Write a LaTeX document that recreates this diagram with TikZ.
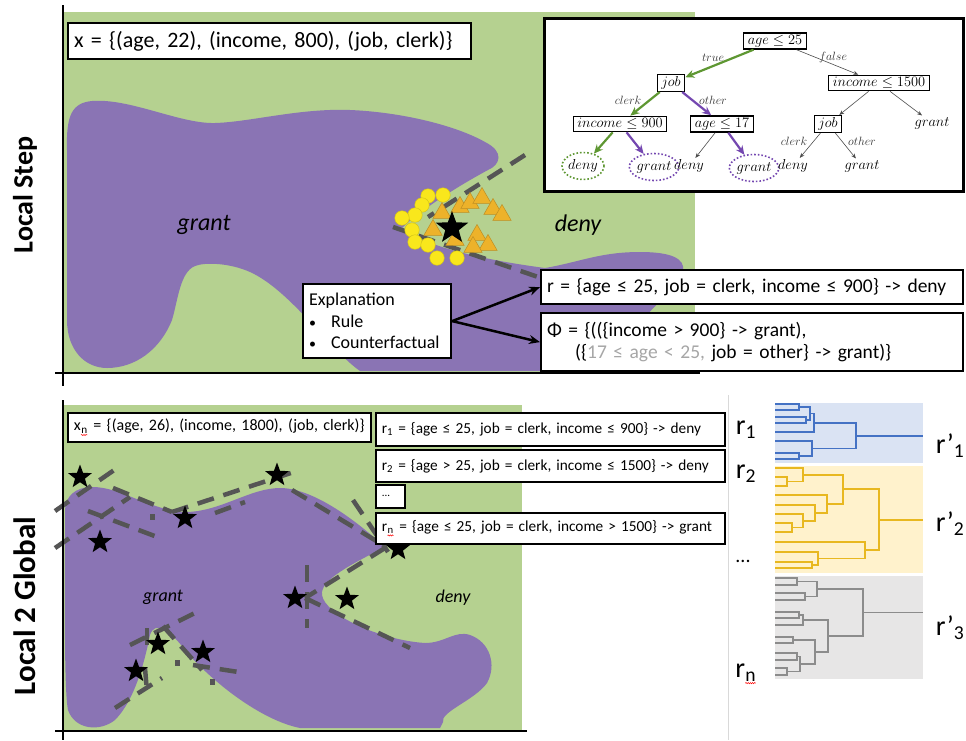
\documentclass[tikz,border=0pt]{standalone}
\usepackage[no-math]{fontspec}
\setmainfont{Carlito}
\usetikzlibrary{shapes.geometric,arrows.meta,decorations.pathmorphing}
\newcommand{\fsz}[2]{\fontsize{#1}{#2}\selectfont}
\newcommand{\dmerge}[5]{\draw (#1,#2) -- (#5,#2) -- (#5,#4) -- (#3,#4);}
\newcommand{\squig}[1]{\tikz[baseline=(sq.base)]{\node[anchor=base, inner sep=0pt, text width=, minimum width=0pt, minimum height=0pt, draw=none, fill=none] (sq) at (0,0) {#1}; \draw[red, line width=0.5pt, decorate, decoration={snake, amplitude=0.6pt, segment length=2.2pt}] ([yshift=-1.5pt]sq.south west) -- ([yshift=-1.5pt]sq.south east);}}
\definecolor{bggreen}{HTML}{B5D190}
\definecolor{blobpurple}{HTML}{8A74B4}
\definecolor{dashgray}{HTML}{555555}
\definecolor{ptyellow}{HTML}{F9E71C}
\definecolor{triorange}{HTML}{EDB22A}
\definecolor{treegreen}{HTML}{5E9732}
\definecolor{treepurple}{HTML}{7447B0}
\definecolor{lightgrayt}{HTML}{A6A6A6}
\definecolor{dblue}{HTML}{4472C4}
\definecolor{dyellow}{HTML}{E8B820}
\definecolor{dgray}{HTML}{8C8C8C}
\definecolor{bandblue}{HTML}{DAE3F3}
\definecolor{bandyellow}{HTML}{FFF2CC}
\definecolor{bandgray}{HTML}{E7E6E6}
\begin{document}
\begin{tikzpicture}[x=1pt,y=-1pt,
  ibox/.style={draw=black, line width=2.2pt, fill=white, anchor=north west, inner xsep=6pt, inner ysep=0pt, align=left},
  lbox/.style={ibox, line width=1.8pt, font=\fsz{15.3}{17}},
  bnd/.style={draw=dashgray, line width=4.5pt, dash pattern=on 17pt off 10pt},
  ydot/.style={circle, fill=ptyellow, draw=ptyellow!85!black, line width=0.5pt, minimum size=14.5pt, inner sep=0pt},
  otri/.style={regular polygon, regular polygon sides=3, fill=triorange, draw=triorange!80!black, line width=0.5pt, minimum size=21pt, inner sep=0pt},
  bstar/.style={star, star points=5, star point ratio=2.4, fill=black, inner sep=0pt, minimum size=#1},
  tbox/.style={draw, line width=1.3pt, inner xsep=4pt, inner ysep=2pt, font=\fsz{13.5}{15}, fill=white},
  leaf/.style={inner sep=1.5pt, font=\fsz{13.5}{15}},
  eleaf/.style={ellipse, draw=#1, dotted, line width=1.6pt, minimum width=40pt, minimum height=27pt, inner sep=0pt, font=\fsz{13.5}{15}},
  elab/.style={font=\fsz{11.5}{13}, text=black!80},
  garr/.style={-{Stealth[length=9pt,width=8pt]}, draw=treegreen, line width=2.2pt},
  parr/.style={-{Stealth[length=9pt,width=8pt]}, draw=treepurple, line width=2.2pt},
  tarr/.style={-{Stealth[length=5pt,width=4pt]}, draw=black!70, line width=0.6pt},
  karr/.style={-{Stealth[length=11pt,width=9pt]}, draw=black, line width=2.5pt},
  axisline/.style={draw=black, line width=1.8pt},
  side/.style={rotate=90, font=\bfseries\fsz{28}{30}}
]
\useasboundingbox (0,0) rectangle (966,740);
\fill[white] (0,0) rectangle (966,740);

% ================= TOP PANEL =================
\fill[bggreen] (63,12) rectangle (695,372);
\fill[blobpurple] (67,150)
  .. controls (66,115) and (72,103) .. (92,101)
  .. controls (130,98) and (180,124) .. (215,123)
  .. controls (250,122) and (300,108) .. (350,110)
  .. controls (400,112) and (455,125) .. (485,142)
  .. controls (505,152) and (500,165) .. (488,170)
  .. controls (460,185) and (420,210) .. (402,228)
  .. controls (430,250) and (500,262) .. (545,268)
  .. controls (580,262) and (600,252) .. (640,252)
  .. controls (670,252) and (686,258) .. (683,272)
  .. controls (680,290) and (650,305) .. (645,320)
  .. controls (640,340) and (630,360) .. (620,371)
  -- (360,371)
  .. controls (330,350) and (290,290) .. (250,272)
  .. controls (230,263) and (205,262) .. (195,266)
  .. controls (180,272) and (178,300) .. (172,320)
  .. controls (160,350) and (135,368) .. (107,368)
  .. controls (85,368) and (67,350) .. (67,320)
  -- cycle;

\draw[bnd] (525,155) -- (428,217);
\draw[bnd] (393,227) -- (541,278);

\foreach \p [count=\i] in {(428,196),(443,195),(422,205),(415,215),(402,218),(412,230),(415,242),(428,245),(437,258),(457,258)}
  \node[ydot] (yd\i) at \p {};
\foreach \p [count=\i] in {(460,207),(470,203),(482,198),(493,209),(502,215),(442,213),(433,230),(455,240),(477,235),(488,245),(473,247)}
  \node[otri] (tr\i) at \p {};
\node[bstar=34] (xstar) at (452,228) {};

\node[font=\itshape\fsz{24}{26}] (grantT) at (204,225) {grant};
\node[font=\itshape\fsz{24}{26}] (denyT) at (578,225) {deny};

\node[ibox, text width=391, minimum height=36, font=\fsz{22}{24}] (xbox) at (67,22) {\mbox{x = \{(age, 22), (income, 800), (job, clerk)\}}};

% decision tree
\node[draw, line width=2.6pt, fill=white, anchor=north west, minimum width=419, minimum height=173, inner sep=0pt] (treebox) at (543,17) {};
\node[tbox] (root) at (775,41) {$age \leq 25$};
\node[tbox] (job) at (671,83) {$job$};
\node[tbox] (inc1500) at (879,83) {$income \leq 1500$};
\node[tbox] (inc900) at (620,124) {$income \leq 900$};
\node[tbox] (age17) at (722,124) {$age \leq 17$};
\node[tbox] (job2) at (828,124) {$job$};
\node[leaf] (grantR) at (932,123) {$grant$};
\node[eleaf=treegreen] (deny1) at (583,166) {$deny$};
\node[eleaf=treepurple] (grant1) at (654,167) {$grant$};
\node[leaf] (deny2) at (689,166) {$deny$};
\node[eleaf=treepurple] (grant2) at (754,168) {$grant$};
\node[leaf] (deny3) at (793,166) {$deny$};
\node[leaf] (grant3) at (862,166) {$grant$};

\draw[garr] (root) -- (job);
\draw[tarr] (root) -- (inc1500);
\draw[garr] (job) -- (inc900);
\draw[parr] (job) -- (age17);
\draw[garr] (inc900) -- (deny1);
\draw[parr] (inc900) -- (grant1);
\draw[tarr] (age17) -- (deny2);
\draw[parr] (age17) -- (grant2);
\draw[tarr] (inc1500) -- (job2);
\draw[tarr] (inc1500) -- (grantR);
\draw[tarr] (job2) -- (deny3);
\draw[tarr] (job2) -- (grant3);

\node[elab] (ltrue) at (713,58) {$true$};
\node[elab] (lfalse) at (833,57) {$false$};
\node[elab] (lclerk1) at (628,100) {$clerk$};
\node[elab] (lother1) at (713,100) {$other$};
\node[elab] (lclerk2) at (794,141) {$clerk$};
\node[elab] (lother2) at (862,141) {$other$};

% explanation boxes
\node[ibox, text width=136, minimum height=74, font=\fsz{18}{21.5}] (expl) at (302,283) {Explanation\\ {\fsz{14}{14}\textbullet}\hspace{15pt}Rule\\ {\fsz{14}{14}\textbullet}\hspace{15pt}Counterfactual};
\node[ibox, text width=410, minimum height=34, font=\fsz{19.5}{22}] (rbox) at (540,269) {\mbox{r = \{age ≤ 25, job = clerk, income ≤ 900\} -> deny}};
\node[ibox, text width=410, minimum height=58, font=\fsz{19.5}{22}] (phibox) at (540,312) {Φ = \{((\{income > 900\} -> grant),\\ \hspace*{28pt}(\{{\color{lightgrayt}17 ≤ age < 25,} job = other\} -> grant)\}};
\draw[karr] (expl.east) -- (rbox.west);
\draw[karr] (expl.east) -- (phibox.west);

\draw[axisline] (63,5) -- (63,386);
\draw[axisline] (55,373) -- (700,373);

\node[side] (lblTop) at (25,195) {Local Step};

% ================= BOTTOM PANEL =================
\fill[bggreen] (63,405) rectangle (522,730);
\fill[blobpurple] (65,512)
  .. controls (65,496) and (75,487) .. (93,487)
  .. controls (120,487) and (150,510) .. (185,512)
  .. controls (220,512) and (250,488) .. (280,488)
  .. controls (310,488) and (350,515) .. (385,547)
  .. controls (350,565) and (320,580) .. (322,595)
  .. controls (325,615) and (380,640) .. (425,643)
  .. controls (445,643) and (455,630) .. (470,635)
  .. controls (490,642) and (497,665) .. (487,683)
  .. controls (475,700) and (440,712) .. (443,722)
  -- (440,728) -- (300,728)
  .. controls (260,720) and (210,680) .. (185,650)
  .. controls (170,630) and (155,620) .. (150,635)
  .. controls (145,660) and (135,700) .. (115,720)
  .. controls (100,732) and (75,730) .. (68,710)
  .. controls (64,690) and (65,600) .. (65,540)
  -- cycle;

\draw[bnd] (55,511) -- (120,466);
\draw[bnd] (55,548) -- (130,497);
\draw[bnd] (88,511) -- (160,538);
\draw[bnd] (113,488) -- (172,512);
\draw[bnd] (172,512) -- (300,470);
\draw[bnd] (215,513) -- (245,502);
\draw[bnd] (292,490) -- (383,545);
\draw[bnd] (353,500) -- (388,552);
\draw[bnd] (385,548) -- (305,598);
\draw[bnd] (305,598) -- (410,648);
\draw[bnd] (307,565) -- (307,628);
\draw[bnd] (115,708) -- (162,678);
\draw[bnd] (145,668) -- (147,692);
\draw[bnd] (130,645) -- (197,612);
\draw[bnd] (147,628) -- (147,648);
\draw[bnd] (163,626) -- (202,670);
\draw[bnd] (193,665) -- (245,673);
\fill[dashgray] (150,514) rectangle (155,520);
\fill[dashgray] (175,660) rectangle (180,666);
\fill[dashgray] (210,679) rectangle (215,685);

\foreach \p [count=\i] in {(80,477),(100,542),(185,518),(277,475),(398,549),(295,598),(347,599),(158,644),(203,652),(136,671)}
  \node[bstar=25] (st\i) at \p {};

\node[font=\itshape\fsz{18}{20}] (grantB) at (163,597) {grant};
\node[font=\itshape\fsz{18}{20}] (denyB) at (453,598) {deny};

\node[lbox, font=\fsz{16}{18}, text width=291, minimum height=29] (xnbox) at (67,412) {\mbox{x\textsubscript{\squig{n}} = \{(age, 26), (income, 1800), (job, clerk)\}}};
\node[lbox, text width=337, minimum height=33] (r1box) at (375,412) {\mbox{r\textsubscript{1} = \{age ≤ 25, job = clerk, income ≤ 900\} -> deny}};
\node[lbox, text width=337, minimum height=32] (r2box) at (375,449) {\mbox{r\textsubscript{2} = \{age > 25, job = clerk, income ≤ 1500\} -> deny}};
\node[lbox, text width=17, minimum height=23, font=\fsz{11}{12}] (dotbox) at (375,484) {...};
\node[lbox, text width=337, minimum height=31] (rnbox) at (375,512) {\mbox{r\textsubscript{\squig{n}} = \{age ≤ 25, job = clerk, income > 1500\} -> grant}};

\draw[axisline] (63,400) -- (63,740);
\draw[axisline] (55,731) -- (527,731);

\node[side, font=\bfseries\fsz{31}{33}] (lblBot) at (25,606) {Local 2 Global};

% ================= DENDROGRAM =================
\draw[black!15, line width=0.8pt] (728,395) -- (728,740);
\fill[bandblue] (775,403) rectangle (923,463);
\fill[bandyellow] (775,466) rectangle (923,573);
\fill[bandgray] (775,576) rectangle (923,679);

\begin{scope}[draw=dblue, line width=1.8pt]
\dmerge{775}{404}{775}{410}{799}
\dmerge{775}{417}{775}{423}{806}
\dmerge{799}{407}{806}{420}{810}
\dmerge{810}{413.5}{775}{432}{814}
\dmerge{775}{453}{775}{459}{799}
\dmerge{775}{441}{799}{456}{812}
\dmerge{814}{422.75}{812}{448.5}{856}
\draw (856,435.6) -- (923,435.6);
\end{scope}

\begin{scope}[draw=dyellow, line width=1.8pt]
\dmerge{775}{477}{775}{486}{787}
\dmerge{775}{468}{787}{481.5}{803}
\dmerge{775}{523}{775}{532}{792}
\dmerge{775}{514}{792}{527.5}{803}
\dmerge{775}{505}{803}{520.75}{815}
\dmerge{775}{495}{815}{512.9}{827}
\dmerge{803}{474.75}{827}{503.9}{843}
\dmerge{775}{562}{775}{568}{812}
\dmerge{775}{552}{812}{565}{818}
\dmerge{775}{542}{818}{558.5}{865}
\dmerge{843}{489.3}{865}{550.25}{879}
\draw (879,519.8) -- (923,519.8);
\end{scope}

\begin{scope}[draw=dgray, line width=1.8pt]
\dmerge{775}{578}{775}{585}{797}
\dmerge{775}{593}{775}{600}{805}
\dmerge{797}{581.5}{805}{596.5}{817}
\dmerge{775}{612}{775}{618}{799}
\dmerge{799}{615}{775}{625}{803}
\dmerge{775}{637}{775}{643}{793}
\dmerge{775}{653}{775}{660}{797}
\dmerge{775}{668}{775}{675}{787}
\dmerge{797}{656.5}{787}{671.5}{800}
\dmerge{793}{640}{800}{664}{815}
\dmerge{803}{620}{815}{652}{828}
\dmerge{817}{589}{828}{636}{863}
\draw (863,612.5) -- (923,612.5);
\end{scope}

\node[font=\fsz{28}{30}] (lr1) at (746,430) {r\textsubscript{1}};
\node[font=\fsz{28}{30}] (lr2) at (746,474) {r\textsubscript{2}};
\node[font=\fsz{20}{22}] (ldots) at (743,561) {...};
\node[font=\fsz{28}{30}] (lrn) at (746,674) {r\textsubscript{\squig{n}}};
\node[font=\fsz{28}{30}] (lp1) at (950,446) {r’\textsubscript{1}};
\node[font=\fsz{28}{30}] (lp2) at (950,524) {r’\textsubscript{2}};
\node[font=\fsz{28}{30}] (lp3) at (950,628) {r’\textsubscript{3}};
\end{tikzpicture}
\end{document}
